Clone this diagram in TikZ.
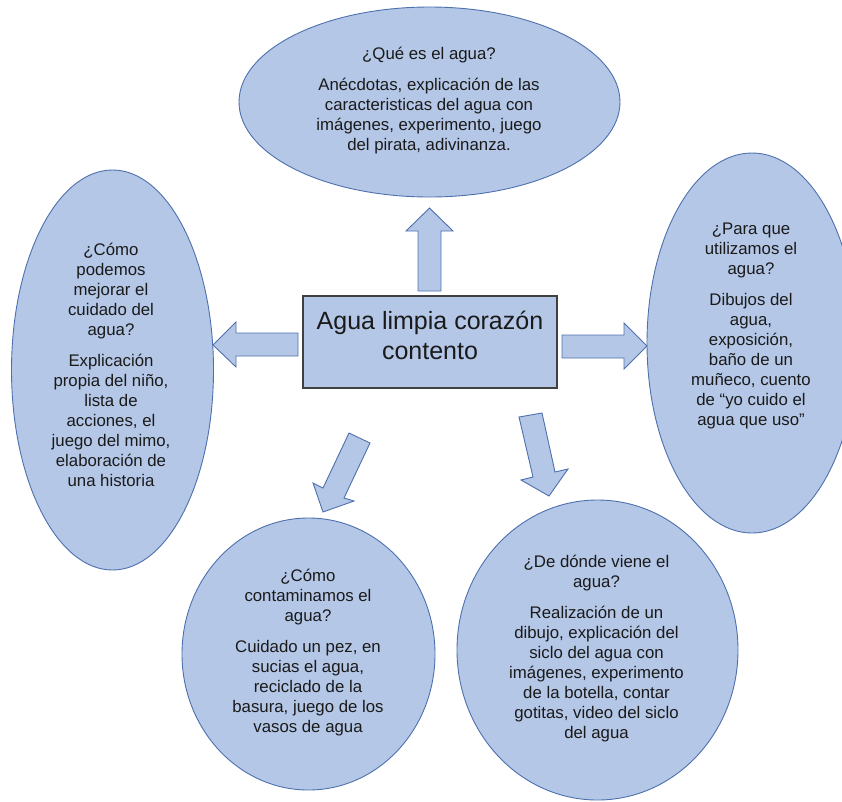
\documentclass[tikz,border=0pt]{standalone}
\usepackage{fontspec}
\setmainfont{Liberation Sans}
\usetikzlibrary{shapes.geometric}
\definecolor{bubfill}{HTML}{B4C7E7}
\definecolor{bubline}{HTML}{4E70AE}
\definecolor{boxline}{HTML}{404040}
\definecolor{txtcol}{HTML}{1A1A1A}
\begin{document}
\begin{tikzpicture}[x=1pt,y=-1pt,
  bub/.style={ellipse,draw=bubline,fill=bubfill,line width=0.9pt,inner sep=0pt},
  blockarrow/.style={draw=bubline,fill=bubfill,line width=0.9pt,line join=miter},
  txt/.style={align=center,text=txtcol,inner sep=0pt,font=\fontsize{16.8}{20}\selectfont},
  bigtxt/.style={align=center,text=txtcol,inner sep=0pt,font=\fontsize{25}{30}\selectfont},
  centerbox/.style={draw=boxline,fill=bubfill,line width=1.3pt,inner sep=0pt}]
\useasboundingbox (0,0) rectangle (842,801);
\clip (0,0) rectangle (842,801);

% bubbles
\node[bub,minimum width=381pt,minimum height=190pt] (top) at (429.5,102) {};
\node[bub,minimum width=202pt,minimum height=400pt] (left) at (112.5,370) {};
\node[bub,minimum width=210pt,minimum height=380pt] (right) at (752,343) {};
\node[bub,minimum width=253pt,minimum height=272pt] (botl) at (308.5,654) {};
\node[bub,minimum width=281pt,minimum height=300pt] (botr) at (597.5,650) {};

% centre box
\node[centerbox,minimum width=254pt,minimum height=92pt] (center) at (430,342) {};
\node[bigtxt] (centertxt) at (430,335) {Agua limpia corazón\\contento};

% block arrows
\draw[blockarrow] (418,291) -- (418,231) -- (406,231) -- (429.5,208) -- (453,231) -- (441,231) -- (441,291) -- cycle;
\draw[blockarrow] (298,333) -- (236,333) -- (236,322) -- (213,345) -- (236,367) -- (236,356) -- (298,356) -- cycle;
\draw[blockarrow] (562,335) -- (624,335) -- (624,323) -- (647,346) -- (624,369) -- (624,358) -- (562,358) -- cycle;
\draw[blockarrow] (370,443) -- (344,498) -- (354,501) -- (323,512) -- (313,483) -- (323,488) -- (349,433) -- cycle;
\draw[blockarrow] (519,417) -- (542,413) -- (555,472) -- (568,469) -- (549,496) -- (521,480) -- (533,477) -- cycle;

% texts
\node[txt] (toptxt) at (429,101) {¿Qué es el agua?\\[11pt]Anécdotas, explicación de las\\caracteristicas del agua con\\imágenes, experimento, juego\\del pirata, adivinanza.};
\node[txt] (lefttxt) at (111,365) {¿Cómo\\podemos\\mejorar el\\cuidado del\\agua?\\[11pt]Explicación\\propia del niño,\\lista de\\acciones, el\\juego del mimo,\\elaboración de\\una historia};
\node[txt] (righttxt) at (751,326) {¿Para que\\utilizamos el\\agua?\\[11pt]Dibujos del\\agua,\\exposición,\\baño de un\\muñeco, cuento\\de “yo cuido el\\agua que uso”};
\node[txt] (botltxt) at (308,653) {¿Cómo\\contaminamos el\\agua?\\[11pt]Cuidado un pez, en\\sucias el agua,\\reciclado de la\\basura, juego de los\\vasos de agua};
\node[txt] (botrtxt) at (596.5,649) {¿De dónde viene el\\agua?\\[11pt]Realización de un\\dibujo, explicación del\\siclo del agua con\\imágenes, experimento\\de la botella, contar\\gotitas, video del siclo\\del agua};
\end{tikzpicture}
\end{document}
